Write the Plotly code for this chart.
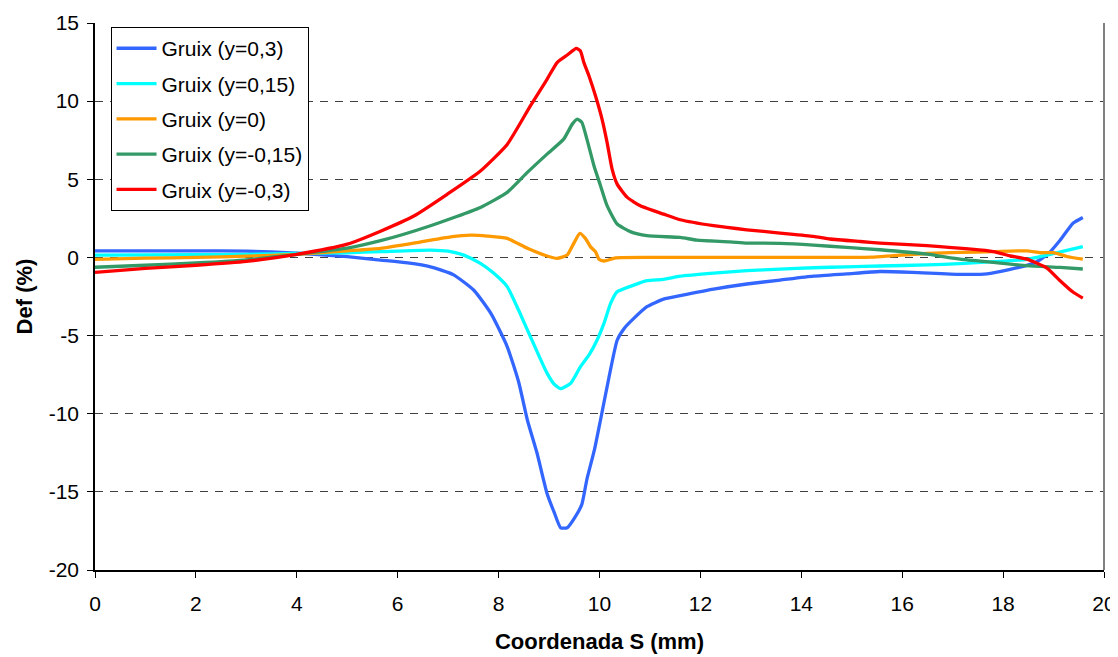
import plotly.graph_objects as go

series_names = ["Gruix (y=0,3)", "Gruix (y=0,15)", "Gruix (y=0)", "Gruix (y=-0,15)", "Gruix (y=-0,3)"]
series_colors = ["#3366FF", "#00FFFF", "#FF9900", "#339966", "#FF0000"]

x_blue = [0, 1, 2, 3, 4, 5, 5.66, 6.2, 6.65, 7.1, 7.51, 7.85, 8.17, 8.4, 8.57, 8.76, 8.96, 9.1, 9.23, 9.36, 9.5,
          9.65, 9.75, 9.9, 10.02, 10.18, 10.35, 10.5, 10.68, 10.94, 11.27, 11.6, 12.26, 12.92, 13.58, 14.24, 14.9,
          15.56, 16.2, 17.15, 17.68, 18.14, 18.6, 18.87, 19.13, 19.39, 19.58]
y_blue = [0.42, 0.42, 0.42, 0.4, 0.28, 0.05, -0.17, -0.35, -0.6, -1.1, -2.1, -3.6, -5.7, -8.0, -10.4, -12.5, -15.1,
          -16.3, -17.3, -17.3, -16.7, -15.8, -14.2, -12.3, -10.4, -7.8, -5.3, -4.5, -3.9, -3.15, -2.67, -2.45, -2.03,
          -1.7, -1.45, -1.2, -1.05, -0.9, -0.95, -1.08, -1.05, -0.76, -0.38, 0.15, 1.1, 2.2, 2.56]

x_cyan = [0, 2, 3, 4, 5, 5.66, 6.65, 7.0, 7.31, 7.64, 7.9, 8.17, 8.4, 8.63, 8.8, 8.96, 9.1, 9.23, 9.43, 9.62, 9.8,
          9.95, 10.09, 10.22, 10.35, 10.68, 10.94, 11.27, 11.6, 12.26, 12.92, 13.58, 14.24, 14.9, 15.56, 16.49, 17.15,
          17.81, 18.47, 18.87, 19.2, 19.58]
y_cyan = [0.15, 0.17, 0.2, 0.25, 0.3, 0.37, 0.47, 0.4, 0.15, -0.38, -1.0, -1.87, -3.4, -5.07, -6.3, -7.4, -8.1, -8.4,
          -8.05, -7.0, -6.2, -5.3, -4.2, -2.94, -2.2, -1.77, -1.49, -1.4, -1.2, -1.0, -0.85, -0.75, -0.66, -0.6, -0.55,
          -0.48, -0.4, -0.27, -0.12, 0.15, 0.4, 0.69]

x_orange = [0, 1, 2, 3, 4, 5, 5.66, 6.46, 7.05, 7.45, 7.78, 8.17, 8.57, 8.96, 9.16, 9.36, 9.49, 9.61, 9.72, 9.82,
            9.92, 9.99, 10.09, 10.32, 11, 12, 13, 14, 15, 15.4, 15.83, 16.49, 17.15, 17.81, 18.47, 18.74, 19.0,
            19.26, 19.58]
y_orange = [-0.12, -0.05, 0, 0.08, 0.2, 0.42, 0.58, 1.0, 1.32, 1.43, 1.37, 1.22, 0.58, 0.09, -0.06, 0.15, 0.9, 1.54,
            1.22, 0.69, 0.37, -0.12, -0.23, -0.03, 0, 0, 0, 0, 0, 0.02, 0.12, 0.25, 0.32, 0.37, 0.42, 0.3, 0.3,
            0.06, -0.11]

x_green = [0, 1, 2, 3, 4, 5, 5.66, 6.65, 7.64, 8.17, 8.57, 8.96, 9.29, 9.46, 9.56, 9.65, 9.75, 9.89, 10.02, 10.15,
           10.35, 10.61, 10.94, 11.6, 11.93, 12.59, 12.92, 13.58, 14.24, 14.9, 15.56, 16.49, 17.15, 17.81, 18.47,
           19.13, 19.58]
y_green = [-0.63, -0.5, -0.35, -0.15, 0.2, 0.6, 1.07, 2.03, 3.2, 4.16, 5.44, 6.61, 7.57, 8.53, 8.85, 8.64, 7.57,
           5.87, 4.59, 3.31, 2.14, 1.65, 1.39, 1.28, 1.11, 1.0, 0.92, 0.9, 0.79, 0.64, 0.49, 0.21, -0.11, -0.32,
           -0.53, -0.64, -0.74]

x_red = [0, 1, 2, 3, 4, 5, 5.66, 6.32, 6.98, 7.64, 8.17, 8.63, 8.96, 9.16, 9.36, 9.54, 9.62, 9.69, 9.79, 9.92,
         10.05, 10.15, 10.25, 10.35, 10.55, 10.81, 11.27, 11.6, 12.26, 12.92, 13.58, 14.24, 14.57, 15.17, 15.56,
         16.49, 17.81, 18.14, 18.47, 18.87, 19.13, 19.39, 19.58]
y_red = [-0.95, -0.7, -0.5, -0.25, 0.2, 0.85, 1.68, 2.65, 4.04, 5.53, 7.23, 9.7, 11.4, 12.47, 12.95, 13.37, 13.22,
         12.47, 11.62, 10.34, 8.85, 7.36, 5.65, 4.69, 3.84, 3.3, 2.77, 2.41, 2.03, 1.77, 1.56, 1.35, 1.18, 1.02,
         0.92, 0.75, 0.37, 0.1, -0.11, -0.68, -1.49, -2.23, -2.6]

x_ticks = [0, 2, 4, 6, 8, 10, 12, 14, 16, 18, 20]
y_ticks = [-20, -15, -10, -5, 0, 5, 10, 15]

xs = [x_blue, x_cyan, x_orange, x_green, x_red]
ys = [y_blue, y_cyan, y_orange, y_green, y_red]

FONT = "Liberation Sans, Arial, sans-serif"

fig = go.Figure()
for i, (name, col, xv, yv) in enumerate(zip(series_names, series_colors, xs, ys)):
    fig.add_trace(go.Scatter(x=xv, y=yv, mode="lines", name=name, legendgroup=f"g{i}",
                             line=dict(color=col, width=3.3, shape="spline", smoothing=0.5)))

# the page body adds an 8px offset, so the figure is sized 8px smaller
fig.update_layout(
    width=1110, height=649,
    margin=dict(l=87, r=14, t=15, b=87),
    paper_bgcolor="white", plot_bgcolor="white",
    font=dict(family=FONT, size=21, color="black"),
    showlegend=True,
    legend=dict(x=0.0154, y=0.9925, xanchor="left", yanchor="top",
                bordercolor="black", borderwidth=1, bgcolor="white",
                font=dict(size=21), tracegroupgap=5, itemwidth=40),
    xaxis=dict(range=[0, 20], tickvals=x_ticks, ticktext=[str(v) for v in x_ticks],
               showgrid=False, zeroline=False, automargin=False,
               showline=True, linecolor="black", linewidth=1.5, ticks="outside", ticklen=6,
               tickcolor="black", tickfont=dict(size=21), ticklabelstandoff=8,
               title=dict(text="<b>Coordenada S (mm)</b>", font=dict(size=22), standoff=20)),
    yaxis=dict(range=[-20, 15], tickvals=y_ticks, ticktext=[str(v) for v in y_ticks],
               showgrid=True, gridcolor="#404040", gridwidth=1,
               griddash="8px,7px", zeroline=False, automargin=False,
               showline=True, linecolor="black", linewidth=1.5, ticks="outside", ticklen=6,
               tickcolor="black", tickfont=dict(size=21), ticklabelstandoff=4,
               title=dict(text="<b>Def (%)</b>", font=dict(size=22), standoff=10)),
)

fig.add_shape(type="line", xref="paper", yref="paper", x0=1, x1=1, y0=0, y1=1,
              line=dict(color="#808080", width=2))

fig.write_html("out.html")
